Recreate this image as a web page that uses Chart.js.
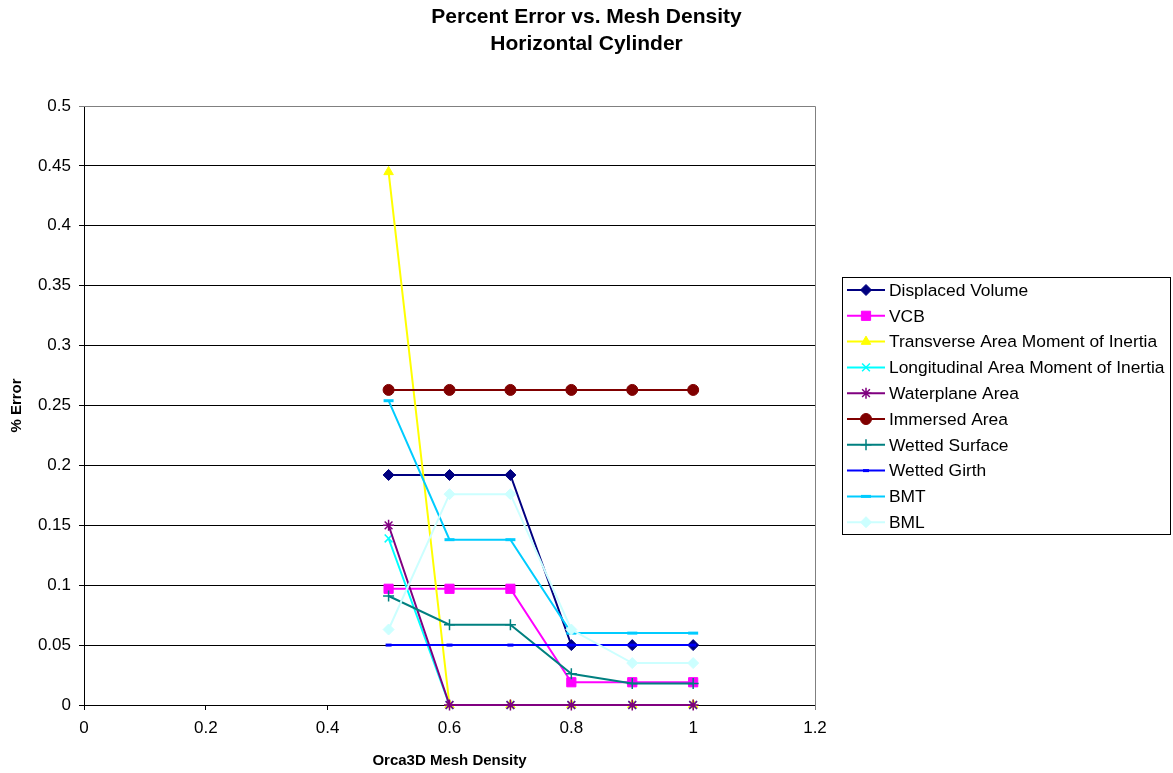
<!DOCTYPE html>
<html>
<head>
<meta charset="utf-8">
<script src="https://cdn.jsdelivr.net/npm/chart.js@4"></script>
<style>
  body { margin: 0; background: #fff; }
  #wrap { width: 1173px; height: 773px; }
</style>
</head>
<body>
<div id="wrap"><canvas id="myChart" width="1173" height="773"></canvas></div>
<script>
// mesh density values (x)
const meshDensity = [0.5, 0.6, 0.7, 0.8, 0.9, 1.0];

// percent error per property
const displacedVolume = [0.192, 0.192, 0.192, 0.050, 0.050, 0.050];
const vcb = [0.097, 0.097, 0.097, 0.019, 0.019, 0.019];
const transverseInertia = [0.445, 0, 0, 0, 0, 0];
const longitudinalInertia = [0.139, 0, 0, 0, 0, 0];
const waterplaneArea = [0.150, 0, 0, 0, 0, 0];
const immersedArea = [0.263, 0.263, 0.263, 0.263, 0.263, 0.263];
const wettedSurface = [0.091, 0.067, 0.067, 0.026, 0.018, 0.018];
const wettedGirth = [0.050, 0.050, 0.050, 0.050, 0.050, 0.050];
const bmt = [0.254, 0.138, 0.138, 0.060, 0.060, 0.060];
const bml = [0.063, 0.176, 0.176, 0.063, 0.035, 0.035];

const seriesNames = ['Displaced Volume', 'VCB', 'Transverse Area Moment of Inertia',
  'Longitudinal Area Moment of Inertia', 'Waterplane Area', 'Immersed Area',
  'Wetted Surface', 'Wetted Girth', 'BMT', 'BML'];

const titleLines = ['Percent Error vs. Mesh Density', 'Horizontal Cylinder'];

const xTicks = { min: 0, max: 1.2, step: 0.2 };
const yTicks = { min: 0, max: 0.5, step: 0.05 };

const FONT = '"Liberation Sans", Arial, sans-serif';
Chart.defaults.font.family = FONT;
Chart.defaults.color = '#000';

const values = [displacedVolume, vcb, transverseInertia, longitudinalInertia, waterplaneArea,
  immersedArea, wettedSurface, wettedGirth, bmt, bml];

// style of each series: colour, marker, marker radius, marker line width
const styles = [
  { c: '#000080', p: 'rectRot', r: 5.5, w: 1 },
  { c: '#FF00FF', p: 'rect', r: 6.5, w: 1 },
  { c: '#FFFF00', p: 'triangle', r: 5.5, w: 1 },
  { c: '#00FFFF', p: 'crossRot', r: 5.5, w: 1.5 },
  { c: '#800080', p: 'star', r: 5.5, w: 1.5 },
  { c: '#800000', p: 'circle', r: 5.5, w: 1 },
  { c: '#008080', p: 'cross', r: 5.5, w: 1.5 },
  { c: '#0000FF', p: 'line', r: 3, w: 3 },
  { c: '#00CCFF', p: 'line', r: 5, w: 3 },
  { c: '#CCFFFF', p: 'rectRot', r: 5.5, w: 1 }
];

const datasets = values.map((vals, i) => ({
  label: seriesNames[i],
  data: vals.map((v, j) => ({ x: meshDensity[j], y: v })),
  borderColor: styles[i].c,
  backgroundColor: styles[i].c,
  borderWidth: 2,
  pointStyle: styles[i].p,
  pointRadius: styles[i].r,
  pointBorderWidth: styles[i].w,
  pointBorderColor: styles[i].c,
  pointBackgroundColor: styles[i].c,
  tension: 0,
  clip: false,
  order: values.length - i
}));

const fmt = (v) => String(Number(Number(v).toFixed(2)));

// title, gray frame on top/right of the plot, legend box on the right
const framePlugin = {
  id: 'frame',
  beforeDatasetsDraw(chart) {
    const { ctx, chartArea: a } = chart;
    ctx.save();
    ctx.strokeStyle = '#808080';
    ctx.lineWidth = 1;
    ctx.beginPath();
    ctx.moveTo(a.left, a.top + 0.5);
    ctx.lineTo(a.right + 0.5, a.top + 0.5);
    ctx.lineTo(a.right + 0.5, a.bottom + 5);
    ctx.stroke();
    ctx.restore();
  },
  afterDraw(chart) {
    const ctx = chart.ctx;
    ctx.save();
    // title
    ctx.font = 'bold 21px ' + FONT;
    ctx.fillStyle = '#000';
    ctx.textAlign = 'center';
    ctx.textBaseline = 'middle';
    titleLines.forEach((t, i) => ctx.fillText(t, chart.width / 2, 17 + i * 27));

    // legend
    const box = { x: 842.5, y: 277.5, w: 328, h: 257 };
    ctx.textAlign = 'left';
    ctx.strokeStyle = '#000';
    ctx.lineWidth = 1;
    ctx.strokeRect(box.x, box.y, box.w, box.h);
    ctx.font = '17.4px ' + FONT;
    chart.data.datasets.forEach((ds, i) => {
      const y = 290 + i * 25.8;
      ctx.strokeStyle = ds.borderColor;
      ctx.lineWidth = 2;
      ctx.beginPath();
      ctx.moveTo(847, y);
      ctx.lineTo(885, y);
      ctx.stroke();
      ctx.fillStyle = ds.pointBackgroundColor;
      ctx.strokeStyle = ds.pointBorderColor;
      ctx.lineWidth = ds.pointBorderWidth;
      Chart.helpers.drawPoint(ctx, {
        pointStyle: ds.pointStyle, radius: ds.pointRadius,
        borderWidth: ds.pointBorderWidth, rotation: 0
      }, 866, y);
      ctx.fillStyle = '#000';
      ctx.fillText(ds.label, 889, y + 1);
    });
    ctx.restore();
  }
};

const ctx = document.getElementById('myChart').getContext('2d');
const chart = new Chart(ctx, {
  type: 'line',
  data: { datasets: datasets },
  plugins: [framePlugin],
  options: {
    responsive: false,
    animation: false,
    devicePixelRatio: 1,
    layout: { padding: { left: 0, right: 358, top: 106, bottom: 0 } },
    plugins: {
      legend: { display: false },
      tooltip: { enabled: false },
      title: { display: false }
    },
    scales: {
      x: {
        type: 'linear',
        min: xTicks.min,
        max: xTicks.max,
        afterFit(scale) { scale.height = 68; },
        ticks: { stepSize: xTicks.step, font: { size: 17 }, color: '#000', padding: 8,
          maxRotation: 0, callback: fmt },
        grid: { drawOnChartArea: false, drawTicks: true, tickLength: 5, color: '#000' },
        border: { color: '#000', width: 1 },
        title: {
          display: true, text: 'Orca3D Mesh Density',
          font: { size: 15, weight: 'bold' }, color: '#000',
          padding: { top: 0, bottom: 3 }
        }
      },
      y: {
        min: yTicks.min,
        max: yTicks.max,
        afterFit(scale) { scale.width = 84; },
        ticks: { stepSize: yTicks.step, font: { size: 17 }, color: '#000', padding: 8,
          callback: fmt },
        grid: {
          color: (c) => (c.tick && c.tick.value === yTicks.max ? '#808080' : '#000'),
          tickLength: 5, lineWidth: 1
        },
        border: { color: '#000', width: 1 },
        title: {
          display: true, text: '% Error',
          font: { size: 15, weight: 'bold' }, color: '#000',
          padding: { top: 8, bottom: 0 }
        }
      }
    }
  }
});
</script>
</body>
</html>
